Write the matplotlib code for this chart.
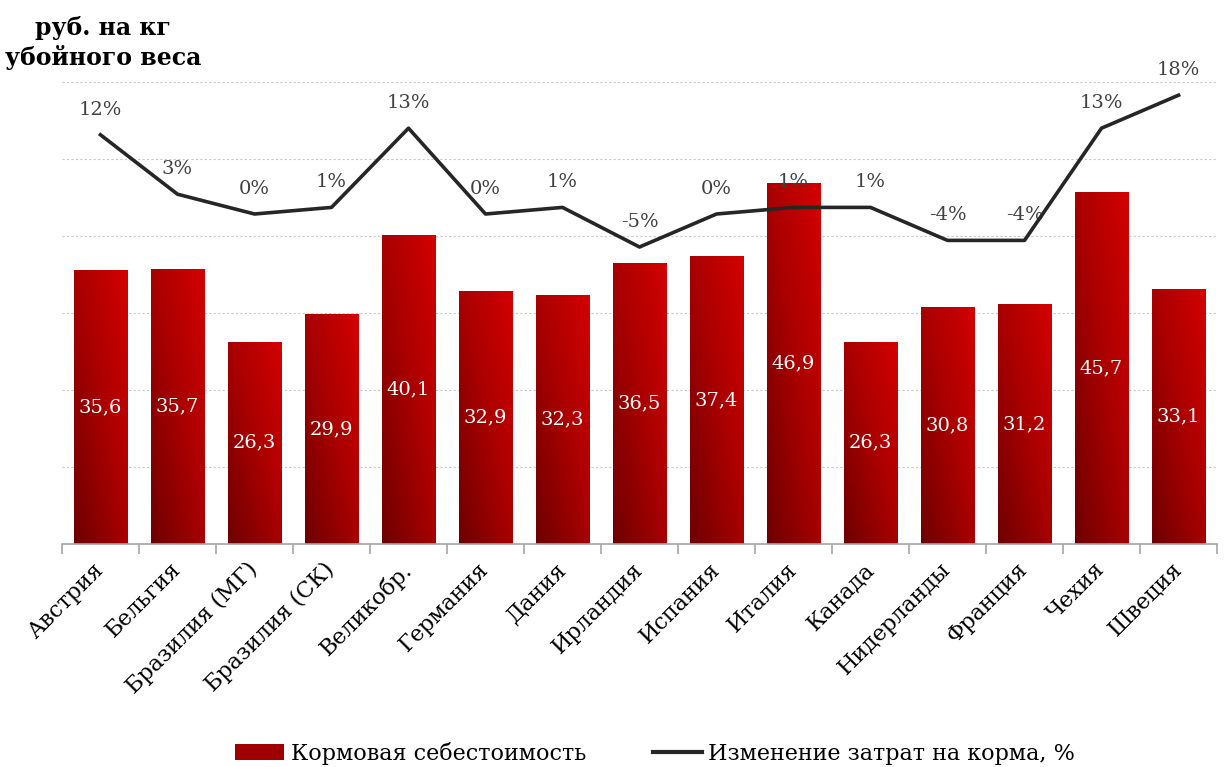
import numpy as np
import matplotlib.pyplot as plt
from matplotlib.colors import LinearSegmentedColormap
from matplotlib.lines import Line2D
from matplotlib.patches import Patch

countries = ["Австрия", "Бельгия", "Бразилия (МГ)", "Бразилия (СК)", "Великобр.",
             "Германия", "Дания", "Ирландия", "Испания", "Италия", "Канада",
             "Нидерланды", "Франция", "Чехия", "Швеция"]
feed_cost = [35.6, 35.7, 26.3, 29.9, 40.1, 32.9, 32.3, 36.5, 37.4, 46.9, 26.3,
             30.8, 31.2, 45.7, 33.1]
change_pct = [12, 3, 0, 1, 13, 0, 1, -5, 0, 1, 1, -4, -4, 13, 18]

serif = ["DejaVu Serif"]
plt.rcParams['font.family'] = serif

fig = plt.figure(figsize=(12.25, 7.67), dpi=100)
ax = fig.add_axes([0.0506, 0.2907, 0.9429, 0.6024])

x = np.arange(len(countries))
width = 0.69
bars = ax.bar(x, feed_cost, width=width, color='none', edgecolor='none', zorder=2)

cmap = LinearSegmentedColormap.from_list("redgrad", ["#6e0000", "#a80000", "#d40000"])
grad = np.add.outer(np.linspace(1, 0, 100), np.linspace(0, 1, 100)) / 2.0
for b in bars:
    x0, y0 = b.get_x(), b.get_y()
    w, h = b.get_width(), b.get_height()
    im = ax.imshow(grad, cmap=cmap, extent=[x0, x0 + w, y0, y0 + h],
                   aspect='auto', origin='upper', zorder=2, vmin=0, vmax=1)
    im.set_clip_path(b)

for xi, v in zip(x, feed_cost):
    ax.text(xi, v / 2, f"{v:.1f}".replace(".", ","), ha='center', va='center',
            color='white', fontsize=14, zorder=4)

ax.set_xlim(-0.5, len(countries) - 0.5)
ax.set_ylim(0, 60)
ax.set_yticks(np.arange(10, 61, 10))
ax.yaxis.grid(True, linestyle=(0, (2, 2)), color='#c8c8c8', linewidth=0.8)
ax.set_axisbelow(True)
for s in ['top', 'right', 'left']:
    ax.spines[s].set_visible(False)
ax.spines['bottom'].set_color('#a6a6a6')
ax.spines['bottom'].set_linewidth(1.2)

ax.set_xticks(np.arange(-0.5, len(countries), 1.0))
ax.set_xticklabels([])
ax.tick_params(axis='x', which='major', length=7, color='#a6a6a6', width=1.2)
ax.set_xticks(x, minor=True)
ax.set_xticklabels(countries, minor=True, rotation=45, ha='right', va='center',
                   rotation_mode='anchor', fontsize=16)
ax.tick_params(axis='x', which='minor', length=0, pad=16)

ax2 = ax.twinx()
ax2.set_ylim(-50, 20)
ax2.axis('off')
ax2.plot(x, change_pct, color='#262626', linewidth=2.6, zorder=5)
for xi, p in zip(x, change_pct):
    ax2.annotate(f"{p}%", (xi, p), xytext=(0, 18), textcoords='offset points',
                 ha='center', va='center', fontsize=14, color='#404040')
ax.tick_params(axis='y', which='both', left=False, right=False,
               labelleft=False, labelright=False)

fig.text(0.084, 0.963, "руб. на кг", ha='center', va='center', fontsize=17,
         fontweight='bold')
fig.text(0.084, 0.925, "убойного веса", ha='center', va='center', fontsize=17,
         fontweight='bold')

handles = [Patch(facecolor='#a00000', edgecolor='none'),
           Line2D([0], [0], color='#262626', linewidth=3)]
fig.legend(handles, ["Кормовая себестоимость", "Изменение затрат на корма, %"],
           loc='center', bbox_to_anchor=(0.535, 0.018), ncol=2, frameon=False,
           fontsize=16, handlelength=2.2, columnspacing=3, handletextpad=0.3)

fig.savefig("out.png", dpi=100)
